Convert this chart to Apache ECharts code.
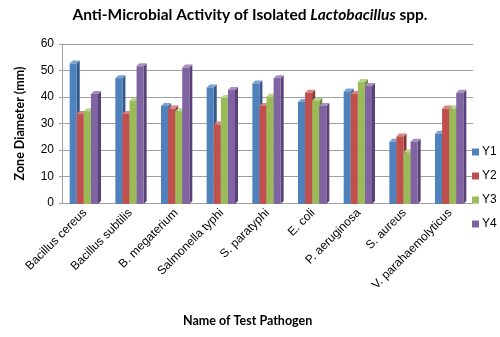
<!DOCTYPE html>
<html><head><meta charset="utf-8">
<script src="https://cdn.jsdelivr.net/npm/echarts@6/dist/echarts.min.js"></script>
<style>html,body{margin:0;padding:0;background:#fff}#c{width:500px;height:337px}</style>
</head><body><div id="c"></div>
<script>
var categories = ['Bacillus cereus','Bacillus subtilis','B. megaterium','Salmonella typhi','S. paratyphi','E. coli','P. aeruginosa','S. aureus','V. parahaemolyticus'];
var seriesNames = ['Y1','Y2','Y3','Y4'];
var y1 = [53, 47.5, 37, 44, 45.5, 38.5, 42.5, 23.5, 26.5];
var y2 = [34, 34, 36, 30, 37, 42, 41.5, 25.5, 36];
var y3 = [35, 39, 35, 40, 40.5, 39, 46, 19.5, 36];
var y4 = [41.5, 52, 51.5, 43, 47.5, 37, 44.5, 23.5, 42];
var yTicks = [0, 10, 20, 30, 40, 50, 60];

var allValues = [y1, y2, y3, y4];
var faceColors = ['#4F81BD','#C0504D','#9BBB59','#8064A2'];
var sideColors = ['#35598A','#8E3432','#6F8A3B','#5A4279'];
var topColors = ['#7FA3D1','#D98583','#BBD48B','#A590C0'];

function makeRender(si) {
  return function (params, api) {
    var ci = api.value(0), v = api.value(1);
    var top = api.coord([ci, v]);
    var base = api.coord([ci, 0]);
    var catW = api.size([1, 0])[0];
    var bw = catW * 0.155;
    var d = 3;
    var x0 = top[0] - 2 * bw + si * bw - 1;
    var x1 = x0 + bw;
    var yt = top[1] + 1, yb = base[1] + 1;
    return {
      type: 'group',
      children: [
        { type: 'polygon', shape: { points: [[x1, yt], [x1 + d, yt - d], [x1 + d, yb - d], [x1, yb]] }, style: { fill: sideColors[si] } },
        { type: 'polygon', shape: { points: [[x0, yt], [x0 + d, yt - d], [x1 + d, yt - d], [x1, yt]] }, style: { fill: topColors[si] } },
        { type: 'rect', shape: { x: x0, y: yt, width: bw, height: yb - yt }, style: { fill: faceColors[si] } }
      ]
    };
  };
}

var series = seriesNames.map(function (n, si) {
  return {
    type: 'custom',
    name: n,
    renderItem: makeRender(si),
    itemStyle: { color: faceColors[si] },
    encode: { x: 0, y: 1 },
    data: allValues[si].map(function (v, i) { return [i, v]; }),
    z: 2
  };
});

var chart = echarts.init(document.getElementById('c'));
chart.setOption({
  animation: false,
  title: [
    {
      text: '{b|Anti-Microbial Activity of Isolated }{i|Lactobacillus}{b| spp.}',
      left: 'center', top: 2,
      textStyle: {
        rich: {
          b: { fontFamily: 'Lato', fontWeight: 'bold', fontSize: 15.5, color: '#000' },
          i: { fontFamily: 'Lato', fontWeight: 'bold', fontStyle: 'italic', fontSize: 15.5, color: '#000' }
        }
      }
    },
    {
      text: 'Name of Test Pathogen',
      left: 178, top: 309,
      textStyle: { fontFamily: 'Lato', fontWeight: 'bold', fontSize: 12.5, color: '#000' }
    }
  ],
  legend: {
    orient: 'vertical', left: 467, top: 141,
    itemWidth: 7, itemHeight: 7, itemGap: 12,
    icon: 'rect',
    textStyle: { fontFamily: 'Liberation Sans', fontSize: 12, color: '#000', padding: [0, 0, 0, -2] },
    data: seriesNames
  },
  grid: { left: 62, right: 27, top: 44, bottom: 134 },
  xAxis: {
    type: 'category',
    data: categories,
    axisLine: { lineStyle: { color: '#a0a0a0' } },
    axisTick: { show: false },
    axisLabel: { rotate: 45, interval: 0, fontFamily: 'Liberation Sans', fontSize: 12, color: '#000', margin: 8 },
    splitLine: { show: false }
  },
  yAxis: {
    type: 'value', min: 0, max: 60, interval: 10,
    name: 'Zone Diameter (mm)', nameLocation: 'middle', nameGap: 36,
    nameTextStyle: { fontFamily: 'Lato', fontWeight: 'bold', fontSize: 12.5, color: '#000' },
    axisLine: { show: true, lineStyle: { color: '#a0a0a0' } },
    axisTick: { show: true, length: 3, lineStyle: { color: '#a0a0a0' } },
    axisLabel: { fontFamily: 'Liberation Sans', fontSize: 12, color: '#000', margin: 8 },
    splitLine: { lineStyle: { color: '#a0a0a0', width: 1 } }
  },
  series: series
});
</script>
</body></html>
